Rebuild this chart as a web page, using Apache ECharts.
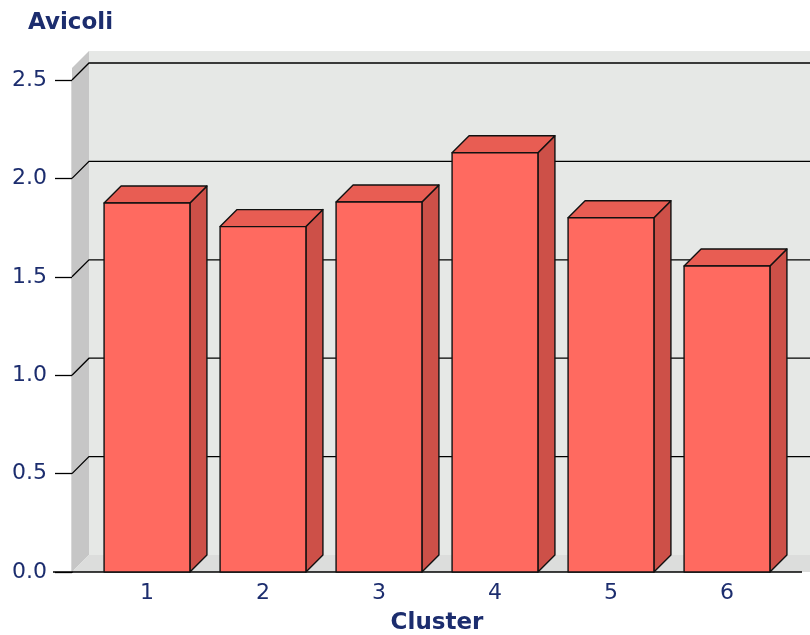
<!DOCTYPE html>
<html>
<head>
    <meta charset="utf-8">
    <title>Avicoli</title>
    <style>
        html, body { margin: 0; padding: 0; background: #fff; }
        #container { width: 810px; height: 635px; }
    </style>
</head>
<body>
    <div id="container"></div>
    <script src="https://cdn.jsdelivr.net/npm/echarts@6/dist/echarts.min.js"></script>
    <script type="text/javascript">
        var categories = ["1", "2", "3", "4", "5", "6"];
        var values = [1.875, 1.755, 1.88, 2.13, 1.80, 1.555];
        var yTicks = [0, 0.5, 1.0, 1.5, 2.0, 2.5];

        var DEPTH = 17;
        var navy = "#1c2d6e";

        var chart = echarts.init(document.getElementById("container"));

        // walls, floor and gridlines of the 3d box
        function renderBox(params, api) {
            var cs = params.coordSys;
            var left = cs.x, right = cs.x + cs.width + 25;
            var top = cs.y - 12, bottom = cs.y + cs.height;
            var children = [];
            // back wall
            children.push({
                type: "rect",
                shape: { x: left, y: top - DEPTH, width: right - left, height: bottom - top },
                style: { fill: "#e6e8e6" }
            });
            // side wall
            children.push({
                type: "polygon",
                shape: { points: [[left - DEPTH, top], [left, top - DEPTH], [left, bottom - DEPTH], [left - DEPTH, bottom]] },
                style: { fill: "#c6c6c6" }
            });
            // floor
            children.push({
                type: "polygon",
                shape: { points: [[left - DEPTH, bottom], [left, bottom - DEPTH], [right, bottom - DEPTH], [right, bottom]] },
                style: { fill: "#dcdddc" }
            });
            yTicks.forEach(function (v) {
                if (v === 0) return;
                var y = api.coord([0, v])[1];
                children.push({
                    type: "polyline",
                    shape: { points: [[left - DEPTH, y], [left, y - DEPTH], [right, y - DEPTH]] },
                    style: { stroke: "#000", lineWidth: 1.3, fill: null }
                });
            });
            // x axis line along the floor front edge
            children.push({
                type: "line",
                shape: { x1: left - 36, y1: bottom, x2: cs.x + cs.width + DEPTH, y2: bottom },
                style: { stroke: "#000", lineWidth: 1.3 }
            });
            return { type: "group", children: children };
        }

        function renderBar(params, api) {
            var top = api.coord([api.value(0), api.value(1)]);
            var base = api.coord([api.value(0), 0]);
            var w = api.size([1, 0])[0] * 0.74;
            var x0 = top[0] - w / 2, x1 = top[0] + w / 2;
            var yt = top[1], yb = base[1];
            var d = DEPTH;
            var edge = { stroke: "#111", lineWidth: 1.4, lineJoin: "round" };
            return {
                type: "group",
                children: [
                    {
                        type: "polygon",
                        shape: { points: [[x1, yt], [x1 + d, yt - d], [x1 + d, yb - d], [x1, yb]] },
                        style: Object.assign({ fill: "#cd5048" }, edge)
                    },
                    {
                        type: "polygon",
                        shape: { points: [[x0, yt], [x0 + d, yt - d], [x1 + d, yt - d], [x1, yt]] },
                        style: Object.assign({ fill: "#e85d53" }, edge)
                    },
                    {
                        type: "rect",
                        shape: { x: x0, y: yt, width: w, height: yb - yt },
                        style: Object.assign({ fill: "#ff6a60" }, edge)
                    }
                ]
            };
        }

        var option = {
            backgroundColor: "#fff",
            animation: false,
            title: {
                text: "Avicoli",
                left: 23,
                top: 7,
                textStyle: { fontFamily: "DejaVu Sans", fontSize: 23, fontWeight: "bold", color: navy }
            },
            grid: { left: 89, right: 25, top: 80, bottom: 63, outerBoundsMode: "none", containLabel: false },
            xAxis: {
                type: "category",
                data: categories,
                name: "Cluster",
                nameLocation: "middle",
                nameGap: 40,
                nameTextStyle: { fontFamily: "DejaVu Sans", fontSize: 23, fontWeight: "bold", color: navy },
                axisLine: { show: false },
                axisTick: { show: false },
                axisLabel: { margin: 10, fontFamily: "DejaVu Sans", fontSize: 22, color: navy }
            },
            yAxis: {
                type: "value",
                min: 0,
                max: 2.5,
                interval: 0.5,
                offset: 17,
                axisLine: { show: true, lineStyle: { color: "#000", width: 1.3 } },
                axisTick: { show: true, length: 17, lineStyle: { color: "#000", width: 1.3 } },
                splitLine: { show: false },
                axisLabel: {
                    margin: 25,
                    fontFamily: "DejaVu Sans",
                    fontSize: 22,
                    color: navy,
                    formatter: function (v) { return v.toFixed(1); }
                }
            },
            series: [
                {
                    type: "custom",
                    renderItem: renderBox,
                    data: [[0, 0]],
                    z: 1,
                    silent: true
                },
                {
                    type: "custom",
                    renderItem: renderBar,
                    data: values.map(function (v, i) { return [i, v]; }),
                    z: 3
                }
            ]
        };
        chart.setOption(option);
    </script>
</body>
</html>
